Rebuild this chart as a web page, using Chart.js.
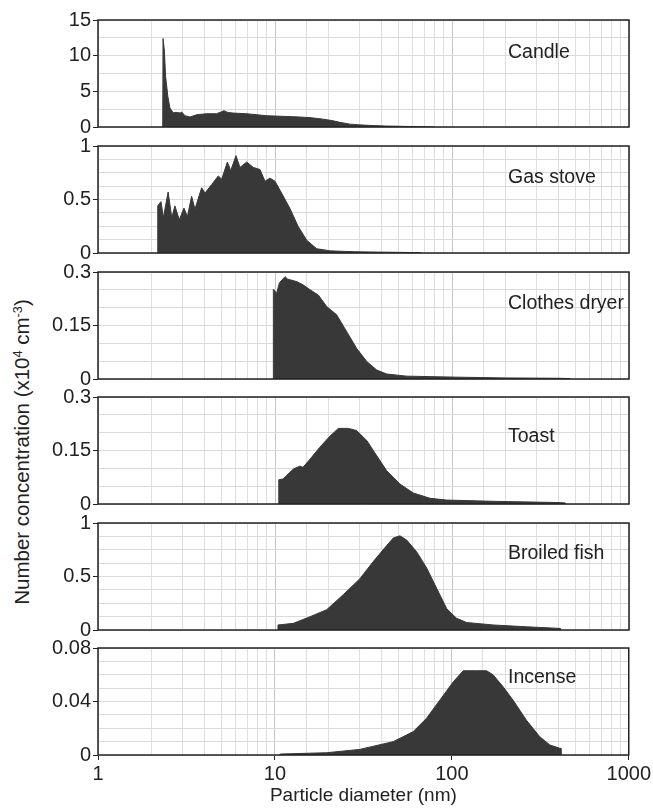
<!DOCTYPE html>
<html><head><meta charset="utf-8">
<script src="https://cdn.jsdelivr.net/npm/chart.js@4"></script>
<style>
html,body{margin:0;padding:0;background:#fff;}
#wrap{position:relative;width:653px;height:809px;overflow:hidden;font-family:'Liberation Sans',Arial,sans-serif;}
canvas{position:absolute;left:0;}
#ytitle{position:absolute;left:22px;top:452px;transform:translate(-50%,-50%) rotate(-90deg);white-space:nowrap;font-size:20.5px;line-height:1;color:#222;}
#ytitle sup{font-size:0.62em;vertical-align:0.5em;}
</style></head>
<body><div id="wrap"><div id="ytitle">Number concentration (x10<sup>4</sup> cm<sup>-3</sup>)</div></div>
<script>
// ---------- data ----------
const panelNames = ['Candle','Gas stove','Clothes dryer','Toast','Broiled fish','Incense'];

const candleDiameter = [2.32,2.33,2.37,2.41,2.48,2.55,2.66,2.80,2.91,2.97,3.10,3.31,3.61,4.11,4.68,5.15,5.40,5.81,6.92,8.98,11.0,13.8,16.0,18.7,21.0,23.3,26.5,30.0,35.8,42.0,50.8,58.0,65.9,80.0];
const candleConc     = [0,12.4,10.8,7.1,4.3,2.65,2.0,2.05,1.95,2.1,1.58,1.4,1.72,1.86,1.86,2.28,2.05,1.95,1.86,1.58,1.5,1.4,1.3,1.1,0.9,0.65,0.4,0.3,0.2,0.14,0.1,0.07,0.05,0];

const gasDiameter = [2.17,2.175,2.27,2.34,2.49,2.61,2.72,2.88,3.06,3.20,3.38,3.53,3.85,4.02,4.39,4.78,5.00,5.38,5.62,6.02,6.34,6.92,7.54,8.23,8.78,9.37,10.0,10.9,12.2,13.5,15.1,17.2,20.5,28,40,55,66,66.5];
const gasConc     = [0,0.44,0.48,0.33,0.57,0.33,0.44,0.31,0.42,0.34,0.53,0.41,0.61,0.56,0.64,0.72,0.69,0.85,0.77,0.91,0.80,0.85,0.80,0.78,0.67,0.70,0.67,0.56,0.41,0.25,0.12,0.04,0.02,0.012,0.008,0.005,0.004,0];

const dryerDiameter = [9.78,9.79,10.2,10.6,11.4,11.8,12.2,13.3,14.4,15.8,17.6,19.6,22.3,25.4,28.9,33.0,37.6,42.8,55.5,111,200,408,464,465];
const dryerConc     = [0,0.252,0.24,0.27,0.287,0.28,0.278,0.273,0.264,0.25,0.235,0.203,0.18,0.133,0.086,0.049,0.025,0.014,0.008,0.005,0.003,0.002,0.001,0];

const toastDiameter = [10.49,10.5,11.1,12.7,13.8,14.4,15.8,17.9,20.5,22.8,26.0,28.9,33.0,37.6,42.8,50.8,60.4,75.1,93.3,171,408,435,436];
const toastConc     = [0,0.068,0.07,0.098,0.106,0.103,0.126,0.159,0.191,0.212,0.212,0.206,0.178,0.135,0.093,0.056,0.031,0.016,0.011,0.0075,0.004,0.003,0];

const fishDiameter = [10.39,10.4,12.7,15.8,19.6,24.3,30.2,35.9,42.8,46.6,50.8,55.5,63.2,71.9,81.9,93.3,106,121,171,264,408,409];
const fishConc     = [0,0.047,0.062,0.125,0.19,0.33,0.48,0.64,0.79,0.86,0.88,0.84,0.73,0.58,0.39,0.20,0.11,0.07,0.047,0.03,0.015,0];

const incenseDiameter = [10.69,10.7,19.6,30.2,46.6,60.4,71.9,85.5,102,116,138,157,171,195,222,264,314,358,408,413,414];
const incenseConc     = [0,0.0007,0.0017,0.0042,0.010,0.0174,0.0274,0.041,0.0548,0.063,0.063,0.063,0.060,0.051,0.041,0.026,0.0137,0.0075,0.005,0.005,0];

const yMaxes = [15,1,0.3,0.3,1,0.08];
const yGridSteps = [2.5,0.125,0.05,0.05,0.125,0.01];
const yTickLabels = [['0','5','10','15'],['0','0.5','1'],['0','0.15','0.3'],['0','0.15','0.3'],['0','0.5','1'],['0','0.04','0.08']];
const xTickLabels = ['1','10','100','1000'];

const diameters = [candleDiameter,gasDiameter,dryerDiameter,toastDiameter,fishDiameter,incenseDiameter];
const concs = [candleConc,gasConc,dryerConc,toastConc,fishConc,incenseConc];

// ---------- layout / style ----------
const panelTops = [20,146,272,397,523,648];
const panelH = 107;
const labelOffsets = [33,32,32,40,31,30];
const labelX = 508;
const FONT = "'Liberation Sans', Arial, sans-serif";
const FILL = '#383838';
const TXT = '#222';

const framePlugin = {
  id: 'frame',
  afterDraw(chart) {
    const {ctx, chartArea: a} = chart;
    ctx.save();
    ctx.strokeStyle = '#222';
    ctx.lineWidth = 1.5;
    ctx.strokeRect(a.left, a.top, a.right - a.left, a.bottom - a.top);
    ctx.restore();
  }
};
const labelPlugin = {
  id: 'panelLabel',
  afterDraw(chart, args, opts) {
    const ctx = chart.ctx;
    ctx.save();
    ctx.font = '19.5px ' + FONT;
    ctx.fillStyle = TXT;
    ctx.textAlign = 'left';
    ctx.textBaseline = 'middle';
    ctx.fillText(opts.text, opts.x, opts.y);
    ctx.restore();
  }
};

const isDecade = v => Math.abs(Math.log10(v) - Math.round(Math.log10(v))) < 1e-9;
const wrap = document.getElementById('wrap');

for (let i = 0; i < 6; i++) {
  const last = i === 5;
  const padTop = 14;
  const canvasTop = panelTops[i] - padTop;
  const canvasH = last ? 809 - canvasTop : padTop + panelH + 14;
  const xAxisH = last ? canvasH - padTop - panelH : 8;
  const cv = document.createElement('canvas');
  cv.width = 653; cv.height = canvasH;
  cv.style.top = canvasTop + 'px';
  cv.style.width = '653px'; cv.style.height = canvasH + 'px';
  wrap.appendChild(cv);
  const labVals = yTickLabels[i].map(parseFloat);
  const labIdx = v => labVals.findIndex(L => Math.abs(L - v) < yMaxes[i] * 1e-6);

  new Chart(cv, {
    type: 'line',
    data: {
      datasets: [{
        data: diameters[i].map((d, k) => ({x: d, y: concs[i][k]})),
        fill: 'origin',
        backgroundColor: FILL,
        borderColor: FILL,
        borderWidth: 1,
        pointRadius: 0,
        tension: 0
      }]
    },
    options: {
      responsive: false,
      animation: false,
      devicePixelRatio: 1,
      layout: {padding: {top: padTop, bottom: last ? 0 : 6, left: 0, right: 24}},
      plugins: {
        legend: {display: false},
        tooltip: {enabled: false},
        panelLabel: {text: panelNames[i], x: labelX, y: panelTops[i] + labelOffsets[i] - canvasTop}
      },
      scales: {
        x: {
          type: 'logarithmic',
          min: 1, max: 1000,
          afterFit(s) { s.height = xAxisH; },
          border: {display: false},
          grid: {
            color: c => (c.tick && isDecade(c.tick.value)) ? '#c6c6c6' : '#dedede',
            lineWidth: 1,
            drawTicks: last,
            tickLength: 5,
            tickColor: c => (c.tick && isDecade(c.tick.value)) ? '#222' : 'rgba(0,0,0,0)'
          },
          ticks: {
            display: last,
            autoSkip: false,
            maxRotation: 0,
            minRotation: 0,
            padding: 2,
            color: TXT,
            font: {family: FONT, size: 20},
            callback(v) {
              if (!isDecade(v)) return '';
              return xTickLabels[Math.round(Math.log10(v))];
            }
          },
          title: {
            display: last,
            text: 'Particle diameter (nm)',
            color: TXT,
            font: {family: FONT, size: 19},
            padding: {top: 0, bottom: 2}
          }
        },
        y: {
          min: 0, max: yMaxes[i],
          afterFit(s) { s.width = 98; },
          border: {display: false},
          grid: {
            color: '#dadada',
            lineWidth: 1,
            tickLength: 5,
            tickColor: c => (c.tick && labIdx(c.tick.value) >= 0) ? '#222' : 'rgba(0,0,0,0)'
          },
          ticks: {
            stepSize: yGridSteps[i],
            autoSkip: false,
            padding: 2,
            color: TXT,
            font: {family: FONT, size: 20},
            callback(v) {
              const k = labIdx(v);
              return k >= 0 ? yTickLabels[i][k] : '';
            }
          }
        }
      }
    },
    plugins: [framePlugin, labelPlugin]
  });
}
</script>
</body></html>
